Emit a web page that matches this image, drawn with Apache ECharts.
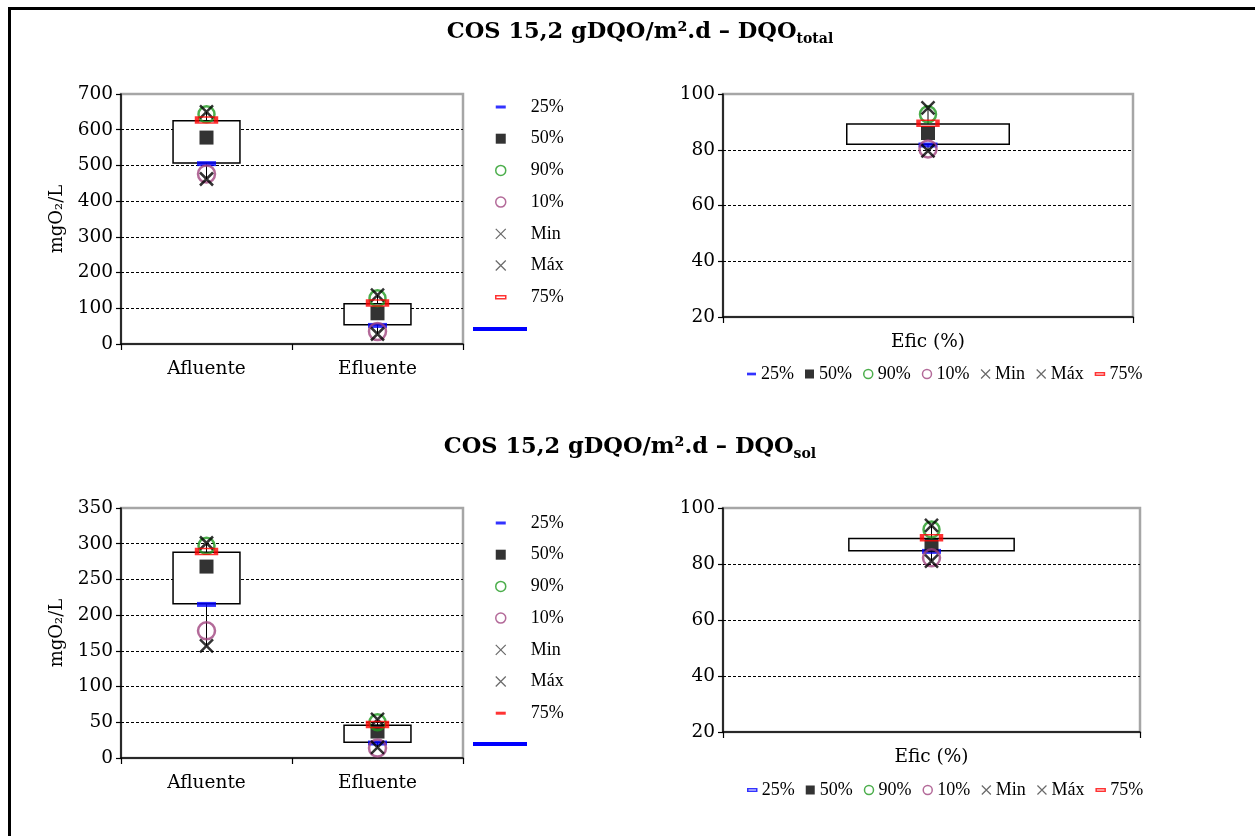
<!DOCTYPE html>
<html>
<head>
<meta charset="utf-8">
<title>COS 15,2 gDQO/m².d</title>
<script src="https://cdn.jsdelivr.net/npm/echarts@6/dist/echarts.min.js"></script>
<style>
html, body { margin: 0; padding: 0; background: #fff; }
#chart { width: 1255px; height: 836px; }
</style>
</head>
<body>
<div id="chart"></div>
<script>
const categories = ['Afluente', 'Efluente']
const eficCategory = ['Efic (%)']
const statNames = ['25%', '50%', '90%', '10%', 'Min', 'Máx', '75%']

// DQO total, mgO2/L
const totP25 = [505, 52]
const totP50 = [578, 86]
const totP90 = [643, 128]
const totP10 = [476, 35]
const totMin = [462, 28]
const totMax = [650, 137]
const totP75 = [627, 115]

// DQO total, eficiência %
const efTotP25 = [81.7]
const efTotP50 = [86]
const efTotP90 = [92.7]
const efTotP10 = [80.3]
const efTotMin = [79.6]
const efTotMax = [95]
const efTotP75 = [89.5]

// DQO solúvel, mgO2/L
const solP25 = [215, 21]
const solP50 = [268, 37]
const solP90 = [297, 50]
const solP10 = [178, 14]
const solMin = [157, 15]
const solMax = [301, 54]
const solP75 = [289, 47]

// DQO solúvel, eficiência %
const efSolP25 = [84.5]
const efSolP50 = [86.7]
const efSolP90 = [92.3]
const efSolP10 = [82.2]
const efSolMin = [81]
const efSolMax = [93.8]
const efSolP75 = [89.4]

const FONT = 'Liberation Serif'
const WIDE = 'DejaVu Serif'
const cross = 'path://M0,0L10,10M10,0L0,10'
const dash = 'path://M0,0h10v3h-10z'

const markers = {
  '25%': { symbol: 'rect', symbolSize: [19, 5], itemStyle: { color: '#0000ff' } },
  '50%': { symbol: 'rect', symbolSize: 14, itemStyle: { color: '#000' } },
  '90%': { symbol: 'circle', symbolSize: 16, itemStyle: { color: 'transparent', borderColor: '#1f9a1f', borderWidth: 2.5 } },
  '10%': { symbol: 'circle', symbolSize: 17, itemStyle: { color: 'transparent', borderColor: '#a0457f', borderWidth: 2.5 } },
  'Min': { symbol: cross, symbolSize: 13, itemStyle: { color: 'transparent', borderColor: '#000', borderWidth: 2.5 } },
  'Máx': { symbol: cross, symbolSize: 13, itemStyle: { color: 'transparent', borderColor: '#000', borderWidth: 2.5 } },
  '75%': { symbol: 'rect', symbolSize: [19, 6], itemStyle: { color: 'transparent', borderColor: '#ff0000', borderWidth: 2.5 } },
}

function legendIcons(p25Outline, p75Outline) {
  return [
    { name: '25%', icon: dash, itemStyle: p25Outline ? { color: '#fff', borderColor: '#0000ff', borderWidth: 1.5 } : { color: '#0000ff', borderWidth: 0 } },
    { name: '50%', icon: 'rect', itemStyle: { color: '#000', borderWidth: 0 } },
    { name: '90%', icon: 'circle', itemStyle: { color: 'transparent', borderColor: '#1f9a1f', borderWidth: 1.5 } },
    { name: '10%', icon: 'circle', itemStyle: { color: 'transparent', borderColor: '#a0457f', borderWidth: 1.5 } },
    { name: 'Min', icon: cross, itemStyle: { color: 'transparent', borderColor: '#444', borderWidth: 1.2 } },
    { name: 'Máx', icon: cross, itemStyle: { color: 'transparent', borderColor: '#444', borderWidth: 1.2 } },
    { name: '75%', icon: dash, itemStyle: p75Outline ? { color: '#fff', borderColor: '#ff0000', borderWidth: 1.5 } : { color: '#ff0000', borderWidth: 0 } },
  ]
}

function whisker(params, api) {
  const lo = api.coord([api.value(0), api.value(1)])
  const hi = api.coord([api.value(0), api.value(2)])
  return { type: 'line', shape: { x1: lo[0], y1: lo[1], x2: hi[0], y2: hi[1] }, style: { stroke: '#000', lineWidth: 1 } }
}

function panelSeries(i, cats, s) {
  const axes = { xAxisIndex: i, yAxisIndex: i }
  const list = [
    { name: ' ', type: 'custom', ...axes, z: 1, renderItem: whisker, encode: { x: 0, y: [1, 2] },
      data: cats.map((c, k) => [k, s['Min'][k], s['Máx'][k]]) },
    { name: 'base' + i, type: 'bar', stack: 'box' + i, ...axes, z: 2, barWidth: '40%', silent: true,
      itemStyle: { color: 'transparent' }, data: s['25%'] },
    { name: 'box' + i, type: 'bar', stack: 'box' + i, ...axes, z: 2, barWidth: '40%', silent: true,
      itemStyle: { color: '#fff', borderColor: '#000', borderWidth: 1.5 },
      data: s['75%'].map((v, k) => v - s['25%'][k]) },
  ]
  statNames.forEach(n => {
    list.push({ name: n, type: 'scatter', ...axes, z: 3, silent: true, ...markers[n], data: s[n] })
  })
  return list
}

const axisText = { fontFamily: WIDE, fontSize: 18.5, color: '#000' }

function yAxis(i, min, max, interval, name) {
  return {
    gridIndex: i, type: 'value', min, max, interval,
    name, nameLocation: 'middle', nameRotate: 90, nameGap: 55,
    nameTextStyle: { fontFamily: WIDE, fontSize: 18, color: '#000' },
    axisLine: { show: true, lineStyle: { color: '#000', width: 1.5 } },
    axisTick: { show: true, length: 5, lineStyle: { color: '#000', width: 1.2 } },
    axisLabel: { ...axisText, margin: 8 },
    splitLine: { show: true, showMinLine: false, showMaxLine: false, lineStyle: { color: '#000', width: 1, type: [3, 2] } },
  }
}

function xAxis(i, data) {
  return {
    gridIndex: i, type: 'category', data,
    axisLine: { show: true, lineStyle: { color: '#000', width: 1.5 } },
    axisTick: { show: true, length: 6, lineStyle: { color: '#000', width: 1.2 } },
    axisLabel: { ...axisText, margin: 16 },
  }
}

function titleText(sub) {
  return '{m|COS 15,2 gDQO/m².d – DQO}{s|' + sub + '}'
}
const titleRich = {
  m: { fontFamily: WIDE, fontSize: 22.5, fontWeight: 'bold', color: '#000', lineHeight: 28 },
  s: { fontFamily: WIDE, fontSize: 14, fontWeight: 'bold', color: '#000', lineHeight: 28, verticalAlign: 'bottom' },
}

function vLegend(top, p75Outline) {
  return {
    orient: 'vertical', left: 495, top, padding: 0, selectedMode: false,
    itemWidth: 10, itemHeight: 10, itemGap: 13.7,
    formatter: n => '{p|}' + n,
    textStyle: { fontFamily: FONT, fontSize: 18, color: '#000', lineHeight: 18, rich: { p: { width: 20 } } },
    data: legendIcons(false, p75Outline),
  }
}
function lineLegend(top) {
  return {
    left: 473, top, padding: 0, selectedMode: false, itemWidth: 54, itemHeight: 4,
    formatter: () => '', textStyle: { fontSize: 1 },
    data: [{ name: ' ', icon: 'rect', itemStyle: { color: '#0000ff' } }],
  }
}
function hLegend(top, p25Outline) {
  return {
    orient: 'horizontal', left: 747, top, padding: 0, selectedMode: false,
    itemWidth: 9, itemHeight: 9, itemGap: 11,
    textStyle: { fontFamily: FONT, fontSize: 18, color: '#000', lineHeight: 18 },
    data: legendIcons(p25Outline, true),
  }
}

const totStats = { '25%': totP25, '50%': totP50, '90%': totP90, '10%': totP10, 'Min': totMin, 'Máx': totMax, '75%': totP75 }
const efTotStats = { '25%': efTotP25, '50%': efTotP50, '90%': efTotP90, '10%': efTotP10, 'Min': efTotMin, 'Máx': efTotMax, '75%': efTotP75 }
const solStats = { '25%': solP25, '50%': solP50, '90%': solP90, '10%': solP10, 'Min': solMin, 'Máx': solMax, '75%': solP75 }
const efSolStats = { '25%': efSolP25, '50%': efSolP50, '90%': efSolP90, '10%': efSolP10, 'Min': efSolMin, 'Máx': efSolMax, '75%': efSolP75 }

const gridBase = { show: true, borderColor: '#a6a6a6', borderWidth: 2.5, backgroundColor: 'transparent' }

const chart = echarts.init(document.getElementById('chart'), null, { renderer: 'canvas' })
chart.setOption({
  animation: false,
  backgroundColor: '#fff',
  title: [
    { text: titleText('total'), left: 640, textAlign: 'center', top: 18, padding: 0, textStyle: { rich: titleRich } },
    { text: titleText('sol'), left: 630, textAlign: 'center', top: 433, padding: 0, textStyle: { rich: titleRich } },
  ],
  graphic: [
    { type: 'line', shape: { x1: 8, y1: 8.5, x2: 1255, y2: 8.5 }, style: { stroke: '#000', lineWidth: 3 } },
    { type: 'line', shape: { x1: 9.5, y1: 7, x2: 9.5, y2: 836 }, style: { stroke: '#000', lineWidth: 3 } },
  ],
  grid: [
    { ...gridBase, left: 121, top: 94, width: 342, height: 250 },
    { ...gridBase, left: 723, top: 94, width: 410, height: 223 },
    { ...gridBase, left: 121, top: 508, width: 342, height: 250 },
    { ...gridBase, left: 723, top: 508, width: 417, height: 224 },
  ],
  xAxis: [xAxis(0, categories), xAxis(1, eficCategory), xAxis(2, categories), xAxis(3, eficCategory)],
  yAxis: [
    yAxis(0, 0, 700, 100, 'mgO₂/L'),
    yAxis(1, 20, 100, 20, ''),
    yAxis(2, 0, 350, 50, 'mgO₂/L'),
    yAxis(3, 20, 100, 20, ''),
  ],
  legend: [
    vLegend(98, true), lineLegend(327),
    vLegend(514, false), lineLegend(742),
    hLegend(365, false), hLegend(781, true),
  ],
  series: [
    ...panelSeries(0, categories, totStats),
    ...panelSeries(1, eficCategory, efTotStats),
    ...panelSeries(2, categories, solStats),
    ...panelSeries(3, eficCategory, efSolStats),
  ],
})
</script>
</body>
</html>
